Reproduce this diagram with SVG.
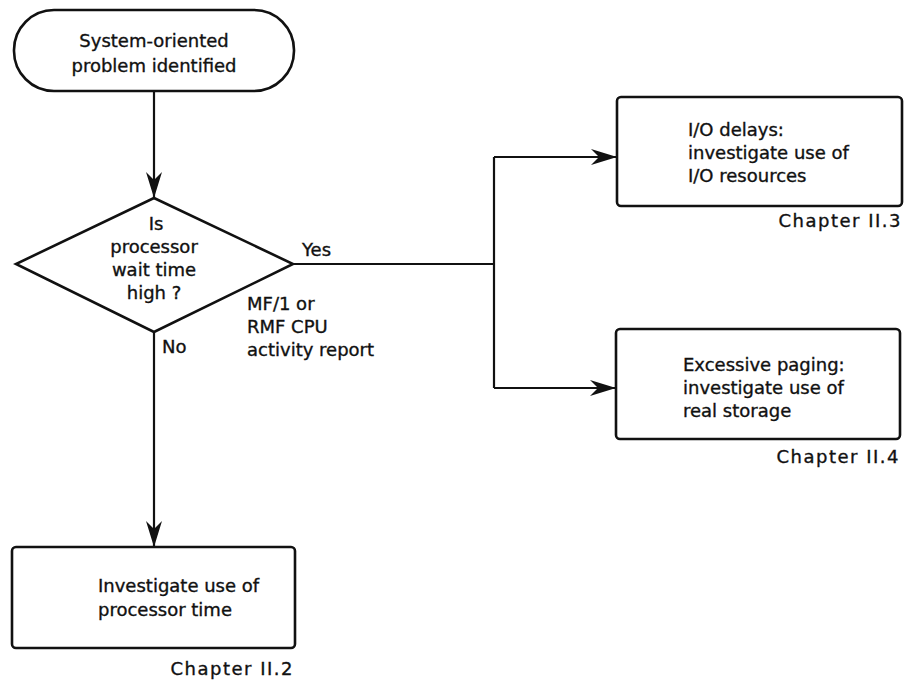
<svg xmlns="http://www.w3.org/2000/svg" width="911" height="681" viewBox="0 0 911 681">
<style>
  .shape { fill: #ffffff; stroke: #111111; stroke-width: 2.6; }
  .conn { fill: none; stroke: #111111; stroke-width: 2.2; }
  text { font-family: "DejaVu Sans", "Liberation Sans", sans-serif; font-size: 18px; fill: #111111; stroke: #111111; stroke-width: 0.35; }
  .c { text-anchor: middle; }
  .chap { text-anchor: end; letter-spacing: 1.5px; }
</style>
<defs>
  <marker id="arrow" viewBox="0 0 26 16" refX="26" refY="8" markerWidth="26" markerHeight="16" markerUnits="userSpaceOnUse" orient="auto">
    <path d="M0,0 L26,8 L0,16 L8,8 Z" fill="#111111"/>
  </marker>
</defs>
<rect width="911" height="681" fill="#ffffff"/>

<g id="connectors">
  <line class="conn" x1="154" y1="91" x2="154" y2="198" marker-end="url(#arrow)"/>
  <line class="conn" x1="154" y1="332" x2="154" y2="547" marker-end="url(#arrow)"/>
  <polyline class="conn" points="293,264 494,264"/>
  <polyline class="conn" points="494,157 494,388"/>
  <line class="conn" x1="494" y1="157" x2="617" y2="157" marker-end="url(#arrow)"/>
  <line class="conn" x1="494" y1="388" x2="616" y2="388" marker-end="url(#arrow)"/>
  <text x="302" y="256">Yes</text>
  <text x="162" y="353">No</text>
  <text x="247" y="310">MF/1 or</text>
  <text x="247" y="333">RMF CPU</text>
  <text x="247" y="356">activity report</text>
</g>

<g id="start">
  <rect class="shape" x="14" y="10" width="280" height="81" rx="40" ry="40"/>
  <text class="c" x="154" y="47">System-oriented</text>
  <text class="c" x="154" y="72">problem identified</text>
</g>

<g id="decision">
  <polygon class="shape" points="154,198 293,264 154,332 16,264"/>
  <text class="c" x="156" y="230">Is</text>
  <text class="c" x="154" y="253">processor</text>
  <text class="c" x="154" y="276">wait time</text>
  <text class="c" x="154" y="299">high ?</text>
</g>

<g id="io-delays">
  <rect class="shape" x="617" y="97" width="285" height="109" rx="4" ry="4"/>
  <text x="688" y="136">I/O delays:</text>
  <text x="688" y="159">investigate use of</text>
  <text x="688" y="182">I/O resources</text>
  <text class="chap" x="902" y="227">Chapter II.3</text>
</g>

<g id="paging">
  <rect class="shape" x="616" y="329" width="284" height="110" rx="4" ry="4"/>
  <text x="683" y="371">Excessive paging:</text>
  <text x="683" y="394">investigate use of</text>
  <text x="683" y="417">real storage</text>
  <text class="chap" x="900" y="463">Chapter II.4</text>
</g>

<g id="processor-time">
  <rect class="shape" x="12" y="547" width="283" height="101" rx="4" ry="4"/>
  <text x="98" y="592">Investigate use of</text>
  <text x="98" y="616">processor time</text>
  <text class="chap" x="294" y="675">Chapter II.2</text>
</g>
</svg>
